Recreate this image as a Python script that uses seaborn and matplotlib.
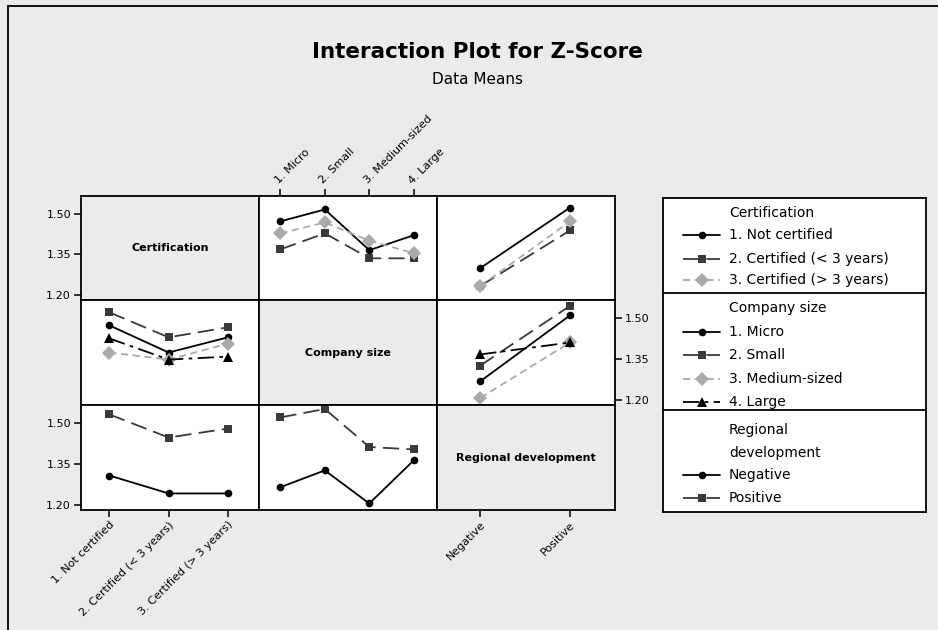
import matplotlib
matplotlib.use("Agg")
import matplotlib.pyplot as plt
from matplotlib.lines import Line2D
import pandas as pd
import seaborn as sns

# factor levels
cert_levels = ["1. Not certified", "2. Certified (< 3 years)", "3. Certified (> 3 years)"]
size_levels = ["1. Micro", "2. Small", "3. Medium-sized", "4. Large"]
region_levels = ["Negative", "Positive"]

# data means: one row per trace level, one column per x level
cert_by_size = [
    [1.471, 1.515, 1.365, 1.420],
    [1.368, 1.427, 1.335, 1.335],
    [1.427, 1.467, 1.400, 1.354],
]
cert_by_region = [
    [1.299, 1.522],
    [1.233, 1.438],
    [1.233, 1.471],
]
size_by_cert = [
    [1.474, 1.374, 1.430],
    [1.522, 1.430, 1.467],
    [1.374, 1.348, 1.407],
    [1.426, 1.348, 1.359],
]
size_by_region = [
    [1.268, 1.511],
    [1.326, 1.546],
    [1.207, 1.411],
    [1.367, 1.411],
]
region_by_cert = [
    [1.307, 1.241, 1.241],
    [1.532, 1.447, 1.480],
]
region_by_size = [
    [1.264, 1.326, 1.204, 1.363],
    [1.521, 1.552, 1.412, 1.403],
]

y_ticks = [1.20, 1.35, 1.50]

factor_names = ["Certification", "Company size", "Regional development"]
factor_levels = [cert_levels, size_levels, region_levels]
means = {
    (0, 1): cert_by_size, (0, 2): cert_by_region,
    (1, 0): size_by_cert, (1, 2): size_by_region,
    (2, 0): region_by_cert, (2, 1): region_by_size,
}

# style by level position
COLORS = ["#000000", "#3a3a3a", "#aaaaaa", "#000000"]
MARKERS = ["o", "s", "D", "^"]
LSTYLES = ["-", (0, (9, 4)), (0, (4, 2.5)), (0, (9, 3, 2, 3))]
MSIZES = [5.5, 5.5, 7.5, 7]
BG = "#ebebeb"

sns.set_style("white")
plt.rcParams["font.family"] = ["DejaVu Sans"]
plt.rcParams["text.color"] = "black"
plt.rcParams["xtick.color"] = "black"
plt.rcParams["ytick.color"] = "black"
plt.rcParams["axes.labelcolor"] = "black"

W_PX, H_PX = 938, 630
fig = plt.figure(figsize=(W_PX / 100, H_PX / 100), dpi=100, facecolor=BG)

# window frame (left and top edges)
fig.add_artist(Line2D([8 / W_PX, 8 / W_PX], [0, 1 - 6 / H_PX], transform=fig.transFigure, color="black", lw=1.3))
fig.add_artist(Line2D([8 / W_PX, 1], [1 - 6 / H_PX, 1 - 6 / H_PX], transform=fig.transFigure, color="black", lw=1.3))

fig.text(477 / W_PX, 1 - 52 / H_PX, "Interaction Plot for Z-Score", ha="center", va="center",
         fontsize=15.5, weight="bold")
fig.text(477 / W_PX, 1 - 80 / H_PX, "Data Means", ha="center", va="center", fontsize=11)

left, cw = 80.7 / W_PX, 178.1 / W_PX
bottom, rh = 1 - 510 / H_PX, 104.8 / H_PX
xlims = [(-0.483, 2.52), (-0.485, 3.52), (-0.483, 1.5)]
ylim = (1.18, 1.566)

tick_kw = dict(direction="out", length=5, width=1.1, color="black", labelcolor="black", labelsize=8, pad=2)

for r in range(3):
    for c in range(3):
        ax = fig.add_axes([left + c * cw, bottom + (2 - r) * rh, cw, rh])
        ax.set_xlim(*xlims[c])
        ax.set_ylim(*ylim)
        for s in ax.spines.values():
            s.set_visible(True)
            s.set_color("black")
            s.set_linewidth(1.3)
        ax.set_xticks([])
        ax.set_yticks([])
        if r == c:
            ax.set_facecolor(BG)
            ax.text(0.5, 0.5, factor_names[r], transform=ax.transAxes, ha="center", va="center",
                    fontsize=8, weight="bold")
        else:
            ax.set_facecolor("white")
            rows = means[(r, c)]
            for i, vals in enumerate(rows):
                df = pd.DataFrame({"x": range(len(vals)), "z": vals})
                sns.lineplot(data=df, x="x", y="z", ax=ax, color=COLORS[i], marker=MARKERS[i],
                             linestyle=LSTYLES[i], markersize=MSIZES[i], markeredgewidth=0,
                             linewidth=1.3, errorbar=None, legend=False)
            ax.set_xlim(*xlims[c])
            ax.set_ylim(*ylim)
        ax.set_xlabel("")
        ax.set_ylabel("")

        # ticks and labels as in the reference layout
        if c == 0 and r in (0, 2):
            ax.set_yticks(y_ticks)
            ax.set_yticklabels([f"{v:.2f}" for v in y_ticks])
            ax.tick_params(axis="y", left=True, **tick_kw)
        if r == 1 and c == 2:
            ax.yaxis.tick_right()
            ax.set_yticks(y_ticks)
            ax.set_yticklabels([f"{v:.2f}" for v in y_ticks])
            ax.tick_params(axis="y", right=True, **tick_kw)
        if r == 0 and c == 1:
            ax.xaxis.tick_top()
            ax.set_xticks(range(len(size_levels)))
            ax.set_xticklabels(size_levels, rotation=45, ha="left", va="bottom", rotation_mode="anchor")
            ax.tick_params(axis="x", top=True, **tick_kw)
        if r == 2 and c in (0, 2):
            levels = factor_levels[c]
            ax.set_xticks(range(len(levels)))
            ax.set_xticklabels(levels, rotation=45, ha="right", va="top", rotation_mode="anchor")
            ax.tick_params(axis="x", bottom=True, **tick_kw)

# legend panel
lg = fig.add_axes([663 / W_PX, 1 - 512 / H_PX, 263 / W_PX, 314 / H_PX])
lg.set_xlim(0, 263)
lg.set_ylim(314, 0)
lg.set_xticks([])
lg.set_yticks([])
lg.set_facecolor("white")
for s in lg.spines.values():
    s.set_visible(True)
    s.set_color("black")
    s.set_linewidth(1.3)
for yy in (95.3, 212):
    lg.axhline(yy, color="black", lw=1.3)

legend_titles = [(["Certification"], [15.3]),
                 (["Company size"], [110]),
                 (["Regional", "development"], [232, 255])]
legend_items = [[37, 61, 82], [134, 157, 181, 204], [277, 300]]
for k in range(3):
    for txt, yy in zip(*legend_titles[k]):
        lg.text(66, yy, txt, ha="left", va="center", fontsize=10)
    for i, (lvl, yy) in enumerate(zip(factor_levels[k], legend_items[k])):
        lg.plot([20, 57], [yy, yy], color=COLORS[i], linestyle=LSTYLES[i], lw=1.3)
        lg.plot([38.5], [yy], color=COLORS[i], marker=MARKERS[i], markersize=MSIZES[i], mew=0)
        lg.text(66, yy, lvl, ha="left", va="center", fontsize=10)

fig.savefig("out.png", dpi=100, facecolor=BG)
